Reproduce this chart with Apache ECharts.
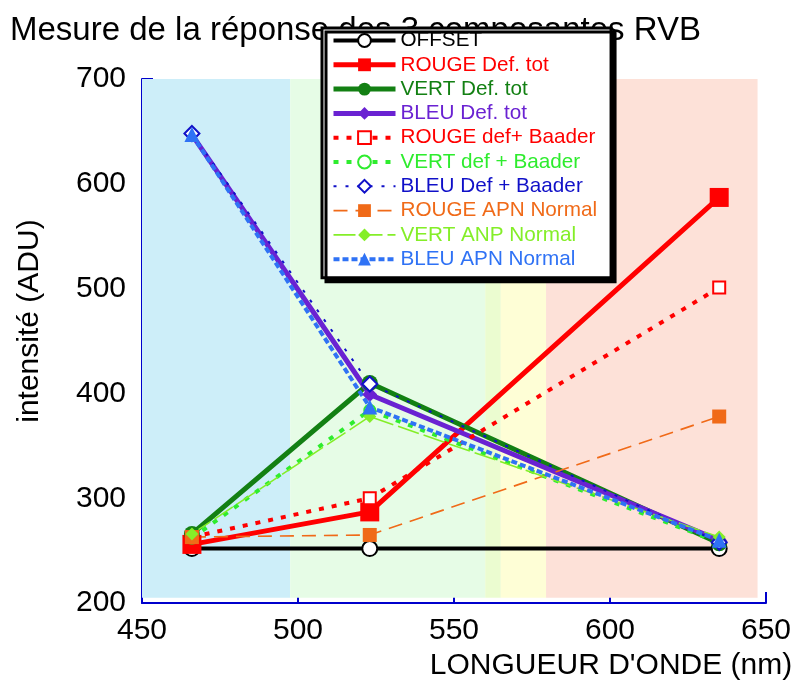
<!DOCTYPE html>
<html>
<head>
<meta charset="utf-8">
<title>Réponse RVB</title>
<script src="https://cdn.jsdelivr.net/npm/echarts@6/dist/echarts.min.js"></script>
<style>
  html, body { margin: 0; padding: 0; background: #fff; }
  #chart { width: 801px; height: 686px; }
</style>
</head>
<body>
<div id="chart"></div>
<script>
// Longueurs d'onde des trois mesures (nm)
const wavelengths = [466, 523, 635];

// Intensités mesurées (ADU)
const offset      = [252, 252, 252];
const rougeDefTot = [256, 287, 587];
const vertDefTot  = [266, 410, 257];
const bleuDefTot  = [647, 399, 260];
const rougeBaader = [263, 300, 501];
const vertBaader  = [262, 384, 258];
const bleuBaader  = [648, 409, 258];
const rougeAPN    = [263, 265, 378];
const vertAPN     = [266, 378, 263];
const bleuAPN     = [647, 387, 260];

// Bandes spectrales en fond (nm)
const spectralBands = [
  [448.8, 497.5],
  [497.5, 560],
  [560, 565],
  [565, 579.5],
  [579.5, 647.3]
];
const bandColors = ['#cdeef9', '#e6fce6', '#ebfcd0', '#fefed6', '#fde1d8'];

const xTicks = { min: 450, max: 650, step: 50 };
const yTicks = { min: 200, max: 700, step: 100 };

const FONT = '"Liberation Sans", Arial, sans-serif';
const AXIS_BLUE = '#0000cc';

function pts(values) {
  return wavelengths.map((w, i) => [w, values[i]]);
}

const seriesDefs = [
  { name: 'OFFSET', data: offset, color: '#000000', width: 4, type: 'solid',
    symbol: 'circle', size: 15, fill: '#ffffff', border: '#000000', borderWidth: 2 },
  { name: 'ROUGE Def. tot', data: rougeDefTot, color: '#ff0000', width: 5, type: 'solid',
    symbol: 'rect', size: 19 },
  { name: 'VERT Def. tot', data: vertDefTot, color: '#138013', width: 5, type: 'solid',
    symbol: 'circle', size: 16 },
  { name: 'BLEU Def. tot', data: bleuDefTot, color: '#6a22d2', width: 5, type: 'solid',
    symbol: 'diamond', size: 15 },
  { name: 'ROUGE def+ Baader', data: rougeBaader, color: '#ff0000', width: 4, type: [5, 8],
    symbol: 'emptyRect', size: 12, borderWidth: 1.5 },
  { name: 'VERT def + Baader', data: vertBaader, color: '#2eec2e', width: 4, type: [5, 8],
    symbol: 'emptyCircle', size: 11, borderWidth: 1.5 },
  { name: 'BLEU Def + Baader', data: bleuBaader, color: '#1010c8', width: 2, type: [3, 9],
    symbol: 'emptyDiamond', size: 15, borderWidth: 2 },
  { name: 'ROUGE APN Normal', data: rougeAPN, color: '#f06a18', width: 1.6, type: [14, 8],
    symbol: 'rect', size: 14 },
  { name: 'VERT ANP Normal', data: vertAPN, color: '#84ee28', width: 1.6, type: [22, 5],
    symbol: 'diamond', size: 13 },
  { name: 'BLEU APN Normal', data: bleuAPN, color: '#2f72f5', width: 4, type: [6, 3],
    symbol: 'triangle', size: 15 }
];

const series = [{
  name: 'bandes',
  type: 'line',
  data: [],
  z: 1,
  clip: false,
  silent: true,
  markArea: {
    silent: true,
    data: spectralBands.map((b, i) => [
      { xAxis: b[0], yAxis: 205, itemStyle: { color: bandColors[i] } },
      { xAxis: b[1], yAxis: 704 }
    ])
  }
}];

function symbolStyle(s) {
  const st = { color: s.fill || s.color };
  if (s.border) { st.borderColor = s.border; }
  if (s.borderWidth) { st.borderWidth = s.borderWidth; }
  return st;
}

seriesDefs.forEach(s => {
  series.push({
    name: s.name,
    type: 'line',
    data: pts(s.data),
    z: 2,
    symbol: s.symbol,
    symbolSize: s.size,
    showAllSymbol: true,
    lineStyle: { color: s.color, width: s.width, type: s.type },
    itemStyle: symbolStyle(s),
    emphasis: { disabled: true },
    animation: false
  });
});

const chart = echarts.init(document.getElementById('chart'), null, { renderer: 'canvas' });

chart.setOption({
  animation: false,
  backgroundColor: '#ffffff',
  textStyle: { fontFamily: FONT },
  title: {
    text: 'Mesure de la réponse des 3 composantes RVB',
    left: 5,
    top: 9,
    z: 1,
    textStyle: { fontFamily: FONT, fontSize: 33, fontWeight: 'normal', color: '#000' }
  },
  legend: {
    orient: 'vertical',
    left: 322,
    top: 28,
    z: 20,
    padding: [2, 14, 8, 9],
    itemWidth: 62,
    itemHeight: 16,
    itemGap: 3.3,
    backgroundColor: '#ffffff',
    borderColor: '#000000',
    borderWidth: 3,
    borderRadius: 0,
    shadowColor: '#000000',
    shadowBlur: 0,
    shadowOffsetX: 4,
    shadowOffsetY: 4,
    selectedMode: false,
    textStyle: { fontFamily: FONT, fontSize: 20.7, lineHeight: 21 },
    data: seriesDefs.map(s => ({
      name: s.name,
      textStyle: { color: s.color },
      lineStyle: { color: s.color, width: s.width, type: s.type },
      itemStyle: symbolStyle(s)
    }))
  },
  grid: { left: 142, right: 35, top: 79, bottom: 74, containLabel: false },
  xAxis: {
    type: 'value',
    min: xTicks.min,
    max: xTicks.max,
    interval: xTicks.step,
    name: "LONGUEUR D'ONDE (nm)",
    nameLocation: 'middle',
    nameGap: 47,
    nameTextStyle: { fontFamily: FONT, fontSize: 30, color: '#000', padding: [0, 0, 0, 314] },
    axisLine: { show: true, onZero: false, lineStyle: { color: AXIS_BLUE, width: 2 } },
    axisTick: { show: true, inside: true, length: 11, lineStyle: { color: AXIS_BLUE, width: 2 } },
    axisLabel: { fontFamily: FONT, fontSize: 30, color: '#000', margin: 13 },
    splitLine: { show: false }
  },
  yAxis: {
    type: 'value',
    min: yTicks.min,
    max: yTicks.max,
    interval: yTicks.step,
    name: 'intensité (ADU)',
    nameLocation: 'middle',
    nameGap: 97,
    nameTextStyle: { fontFamily: FONT, fontSize: 30, color: '#000', padding: [0, 0, 0, 40] },
    axisLine: { show: true, onZero: false, lineStyle: { color: AXIS_BLUE, width: 2 } },
    axisTick: { show: true, inside: true, length: 11, lineStyle: { color: AXIS_BLUE, width: 2 } },
    axisLabel: { fontFamily: FONT, fontSize: 30, color: '#000', margin: 16 },
    splitLine: { show: false }
  },
  series: series
});
</script>
</body>
</html>
